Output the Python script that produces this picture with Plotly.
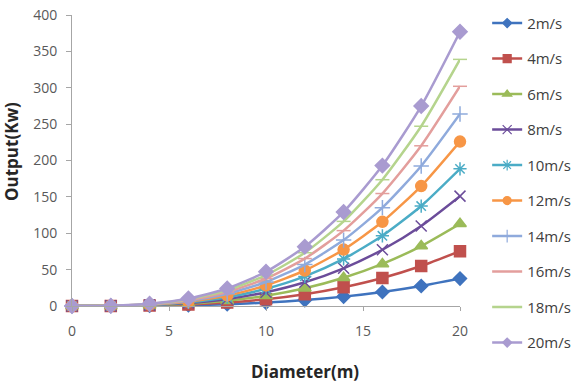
import plotly.graph_objects as go

diameter = [0, 2, 4, 6, 8, 10, 12, 14, 16, 18, 20]
speeds = ["2m/s", "4m/s", "6m/s", "8m/s", "10m/s", "12m/s", "14m/s", "16m/s", "18m/s", "20m/s"]

out_2 = [0, 0.04, 0.3, 1.0, 2.4, 4.7, 8.1, 12.9, 19.3, 27.5, 37.7]
out_4 = [0, 0.08, 0.6, 2.0, 4.8, 9.4, 16.3, 25.9, 38.6, 55.0, 75.4]
out_6 = [0, 0.1, 0.9, 3.1, 7.2, 14.1, 24.4, 38.8, 57.9, 82.4, 113]
out_8 = [0, 0.15, 1.2, 4.1, 9.7, 18.9, 32.6, 51.8, 77.3, 110, 151]
out_10 = [0, 0.2, 1.5, 5.1, 12.1, 23.6, 40.7, 64.7, 96.5, 137.4, 188.5]
out_12 = [0, 0.2, 1.8, 6.1, 14.5, 28.3, 48.8, 77.5, 115.7, 164.8, 226]
out_14 = [0, 0.3, 2.1, 7.1, 16.9, 33, 57, 90.6, 135.2, 192.5, 264]
out_16 = [0, 0.3, 2.4, 8.2, 19.3, 37.8, 65.2, 103.6, 154.6, 220.2, 302]
out_18 = [0, 0.3, 2.7, 9.2, 21.7, 42.4, 73.2, 116.3, 173.6, 247.1, 339]
out_20 = [0, 0.4, 3.0, 10.2, 24.1, 47.1, 81.4, 129.3, 193, 274.8, 377]

series = [out_2, out_4, out_6, out_8, out_10, out_12, out_14, out_16, out_18, out_20]
colors = ["#3F73BE", "#C0504D", "#9BBB59", "#6B4C9A", "#4BACC6",
          "#F79646", "#8FAADC", "#E39E9C", "#B5D48D", "#A99BD0"]
symbols = ["diamond", "square", "triangle-up", "x-thin-open", "asterisk-open",
           "circle", "cross-thin-open", "line-ew-open", "line-ew-open", "diamond"]
sizes = [10, 11, 11, 11, 11, 11, 11, 10, 10, 11]
legend_sizes = [7, 8, 8, 9, 9, 8, 9, 0, 0, 7]

fig = go.Figure()
for name, ys, c, s, sz in zip(speeds, series, colors, symbols, sizes):
    fig.add_trace(go.Scatter(
        x=diameter, y=ys, name=name, mode="lines+markers",
        line=dict(color=c, width=2.5, shape="spline", smoothing=0.6),
        marker=dict(symbol=s, size=sz, color=c, line=dict(color=c, width=1.5)),
        cliponaxis=False, legendgroup=name, showlegend=False,
    ))
# legend entries with smaller markers, as in the reference legend
for name, c, s, lsz in zip(speeds, colors, symbols, legend_sizes):
    fig.add_trace(go.Scatter(
        x=[None], y=[None], name=name, mode="lines+markers" if lsz else "lines",
        line=dict(color=c, width=2.5),
        marker=dict(symbol=s, size=lsz if lsz else 6, color=c, line=dict(color=c, width=1.2)),
        legendgroup=name, showlegend=True,
    ))

fig.update_layout(
    width=581, height=382,
    margin=dict(l=72, r=121, t=15, b=76, autoexpand=False),
    paper_bgcolor="white", plot_bgcolor="white",
    font=dict(family="Open Sans", size=14, color="#595959"),
    showlegend=True,
    legend=dict(x=1.07, y=1.028, xanchor="left", yanchor="top",
                tracegroupgap=13, font=dict(size=15, color="#404040"),
                maxheight=1.0,
                bgcolor="rgba(0,0,0,0)"),
    xaxis=dict(range=[0, 20], tickvals=[0, 5, 10, 15, 20], showgrid=False,
               zeroline=False, showline=True, linecolor="#A6A6A6", linewidth=1,
               ticks="outside", ticklen=4, tickcolor="#A6A6A6",
               ticklabelstandoff=8),
    yaxis=dict(range=[0, 400], dtick=50, showgrid=False, zeroline=False,
               showline=True, linecolor="#A6A6A6", linewidth=1,
               ticks="outside", ticklen=5, tickcolor="#A6A6A6",
               ticklabelstandoff=6),
    annotations=[
        dict(text="<b>Diameter(m)</b>", xref="paper", yref="paper",
             x=(305 - 72) / 388, y=(306 - 371) / 291, xanchor="center", yanchor="middle",
             showarrow=False, font=dict(size=17, color="#262626", family="Open Sans")),
        dict(text="<b>Output(Kw)</b>", xref="paper", yref="paper",
             x=(11 - 72) / 388, y=(306 - 152) / 291, xanchor="center", yanchor="middle",
             textangle=-90, showarrow=False,
             font=dict(size=17, color="#262626", family="Open Sans")),
    ],
)

fig.write_html("out.html")
